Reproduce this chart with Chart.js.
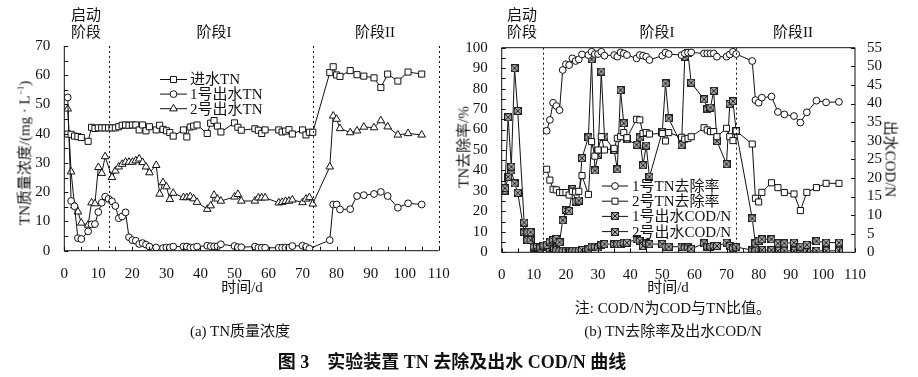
<!DOCTYPE html>
<html><head><meta charset="utf-8">
<script src="https://cdn.jsdelivr.net/npm/chart.js@4.4.0/dist/chart.umd.min.js"></script>
<style>
body{margin:0;background:#fff;width:918px;height:377px;overflow:hidden;position:relative;font-family:"Liberation Serif","Noto Sans CJK SC",serif;}
canvas{position:absolute;left:0;top:0;}
.t{position:absolute;transform:translate(-50%,-50%);white-space:nowrap;color:#111;font-size:15px;line-height:1;}
.rl{transform:translate(-50%,-50%) rotate(-90deg);}
.rr{transform:translate(-50%,-50%) rotate(90deg);}
sup{font-size:9px;vertical-align:6px;line-height:0;}
</style></head><body>
<canvas id="ca" width="918" height="377"></canvas>
<canvas id="cb" width="918" height="377"></canvas>

<div class="t" style="left:86px;top:15px">启动</div>
<div class="t" style="left:86px;top:32px">阶段</div>
<div class="t" style="left:214px;top:32px">阶段I</div>
<div class="t" style="left:375px;top:32px">阶段II</div>
<div class="t rl" style="left:25px;top:153px">TN质量浓度/(mg · L<sup>−1</sup>)</div>
<div class="t" style="left:242px;top:287px">时间/d</div>
<div class="t" style="left:240px;top:331px">(a) TN质量浓度</div>

<div class="t" style="left:522px;top:15px">启动</div>
<div class="t" style="left:522px;top:32px">阶段</div>
<div class="t" style="left:657px;top:32px">阶段I</div>
<div class="t" style="left:793px;top:32px">阶段II</div>
<div class="t rl" style="left:464px;top:147px">TN去除率/%</div>
<div class="t rr" style="left:890px;top:159px">出水COD/N</div>
<div class="t" style="left:668px;top:287px">时间/d</div>
<div class="t" style="left:673px;top:308px">注: COD/N为COD与TN比值。</div>
<div class="t" style="left:673px;top:331px">(b) TN去除率及出水COD/N</div>
<div class="t" style="left:452px;top:362px;font-weight:bold;font-size:18px">图 3　实验装置 TN 去除及出水 COD/N 曲线</div>

<script>
// ---------- data: panel (a) ----------
const inDays = [1,2,3,4,5,7,8,9,10,11,12,13,14,15,16,17,18,19,20,21,22,23,24,25,27,28,29,30,31,32,35,36,37,38,39,42,43,44,45,46,50,51,52,56,57,58,59,63,64,65,66,67,70,71,72,73,78,79,80,81,84,86,88,91,93,95,98,101,105];
const inTN = [39.9,39.8,39.2,39.0,38.7,37.4,42.2,41.8,42.0,42.0,42.0,42.0,42.0,42.0,42.4,42.9,43.0,42.9,43.0,43.0,41.3,43.0,41.0,42.4,41.3,42.9,41.5,41.0,40.4,39.2,41.3,38.9,42.3,42.6,43.0,40.1,43.6,44.5,42.6,40.6,43.7,42.2,41.2,41.7,41.2,40.1,41.3,41.3,40.6,40.9,41.4,39.9,41.3,39.6,40.5,40.5,60.9,62.9,60.1,59.6,61.6,60.2,59.7,59.1,55.8,60.4,58.0,61.1,60.4];
const e1Days = [1,2,3,4,5,7,8,9,10,11,12,13,14,15,16,17,18,19,20,21,22,23,24,25,27,29,30,31,32,35,36,37,38,39,42,43,44,45,46,50,51,52,56,57,58,59,63,64,65,66,67,70,71,72,78,79,80,81,84,86,88,91,93,95,98,101,105];
const e1TN = [52.4,17.0,15.2,4.3,4.0,6.6,9.0,9.1,13.2,16.4,18.5,17.7,16.9,15.3,11.1,11.7,13.1,4.6,3.6,3.4,2.3,2.6,2.1,1.4,1.1,0.9,1.1,1.1,1.4,1.4,1.4,1.1,1.1,1.4,1.7,1.5,1.5,1.5,2.2,1.6,1.2,1.2,1.4,1.0,1.0,1.0,1.0,1.0,1.0,1.0,1.6,1.7,1.3,0.7,3.6,15.8,15.8,14.1,14.2,18.7,19.0,19.4,20.1,18.7,14.7,16.2,15.8];
const e2Days = [1,2,3,4,5,7,8,9,10,11,12,14,15,16,17,18,19,20,21,22,23,24,25,27,28,29,30,31,32,35,36,37,38,39,42,43,44,45,46,50,51,52,56,57,58,59,63,64,65,66,67,70,71,72,73,78,79,80,81,84,86,88,91,93,95,98,101,105];
const e2TN = [48.5,27.0,15.4,13.3,9.5,8.8,16.4,16.1,28.5,26.5,32.2,25.1,27.3,28.7,29.6,30.3,30.3,30.3,30.8,31.4,30.2,28.7,26.7,29.2,19.4,23.3,21.9,17.6,19.7,18.2,18.2,18.5,17.8,16.6,14.2,15.4,19.0,17.7,17.0,18.4,19.3,17.0,17.0,18.1,18.1,18.1,16.4,16.6,16.9,17.0,17.4,16.5,17.7,18.2,16.0,28.7,46.1,45.0,41.8,40.4,41.0,42.3,42.1,44.5,42.4,39.6,40.1,39.6];

// ---------- data: panel (b) ----------
const rDays = [14,15,16,17,18,19,20,21,22,23,24,25,27,28,29,30,31,32,35,36,37,38,39,42,43,44,45,46,50,51,52,56,57,58,59,63,64,65,66,67,70,71,72,73,78,79,80,81,84,86,88,91,93,95,98,101,105];
const r1 = [59.4,64.7,73.1,71.5,69.5,89.1,91.9,91.5,94.8,93.5,94.3,96.7,96.4,98.0,96.9,96.9,98.0,96.1,96.4,95.6,97.7,97.2,96.4,94.8,96.4,96.1,95.6,94.0,96.1,97.6,96.9,96.4,97.2,97.6,97.7,97.2,97.2,97.2,97.2,95.6,95.6,96.7,98.0,96.9,93.5,74.4,73.1,75.6,76.1,68.6,67.4,66.6,63.4,68.4,74.1,73.3,73.5];
const r2 = [40.6,35.3,30.8,30.5,29.2,29.2,29.2,28.0,29.8,29.5,29.8,37.5,28.3,54.1,47.0,50.0,56.5,50.0,50.8,55.7,56.5,58.5,56.0,65.0,64.7,58.1,58.5,57.8,58.1,54.4,58.5,56.2,55.3,55.7,56.5,60.9,59.8,59.0,59.0,56.5,60.6,56.5,54.6,59.3,52.9,26.4,24.6,29.3,34.0,31.6,29.2,28.5,20.4,29.3,31.6,33.7,33.7];
const cDays = [1,2,3,4,5,7,8,9,10,11,12,13,14,15,16,17,18,19,20,21,22,23,24,25,27,28,29,30,31,32,35,36,37,38,39,42,43,44,45,46,50,51,52,56,57,58,59,63,64,65,66,67,70,71,72,73,78,79,80,81,84,86,88,91,93,95,98,101,105];
const c1 = [17.2,36.3,23.0,49.5,38.0,8.0,5.4,5.4,1.5,1.5,1.3,1.8,2.0,2.9,3.3,3.6,2.7,8.6,11.4,11.1,17.0,13.6,13.9,25.3,30.9,51.9,22.0,26.2,48.6,31.1,27.5,22.3,43.6,34.7,30.4,28.9,30.9,23.4,28.7,20.3,32.4,45.4,36.0,28.8,52.6,53.5,45.6,41.1,38.5,38.9,43.4,29.9,23.7,39.9,40.6,32.6,9.1,2.4,3.1,3.5,3.5,2.4,2.4,2.6,1.5,2.0,3.0,2.6,2.6];
const c2 = [16.6,20.3,22.0,18.5,16.0,5.4,3.3,3.3,1.2,1.2,1.0,1.5,1.5,0.8,1.1,0.6,0.4,0.4,0.4,0.4,0.4,0.4,0.4,0.6,0.8,1.5,1.5,1.3,2.0,2.2,2.2,2.2,2.2,2.6,2.6,3.5,3.1,1.7,2.4,2.2,2.2,1.5,1.5,1.5,1.3,1.3,0.9,2.4,1.5,1.5,1.7,1.7,2.6,1.7,1.1,1.4,0.6,0.4,0.7,0.6,0.6,0.4,0.4,0.4,0.4,0.4,0.4,0.4,0.4];

// ---------- ticks / phases ----------
const xTicks = [0,10,20,30,40,50,60,70,80,90,100,110];
const yTicksA = [0,10,20,30,40,50,60,70];
const yTicksB = [0,10,20,30,40,50,60,70,80,90,100];
const y2TicksB = [0,5,10,15,20,25,30,35,40,45,50,55];
const phaseA = [13,73,110];
const phaseB = [13,73];

const INK = '#111';
const FONT = {family:'"Liberation Serif","Noto Sans CJK SC",serif', size:15};

function pts(xs, ys){ return xs.map((x,i)=>({x:x, y:ys[i]})); }
function crossMark(){
  const c=document.createElement('canvas'); c.width=8; c.height=8;
  const g=c.getContext('2d');
  g.fillStyle='#a8a8a8'; g.fillRect(0,0,8,8);
  g.strokeStyle='#222'; g.lineWidth=1; g.strokeRect(0.5,0.5,7,7);
  g.beginPath(); g.moveTo(1,1); g.lineTo(7,7); g.moveTo(7,1); g.lineTo(1,7); g.stroke();
  return c;
}
const XM = crossMark();

function ds(label, data, style, r, axis){
  const o = {label, data, borderColor:INK, borderWidth:1, tension:0, fill:false,
    pointStyle:style, pointRadius:r, pointHoverRadius:r, pointBorderColor:INK,
    pointBackgroundColor:'#fff', pointBorderWidth:1};
  if(axis) o.yAxisID = axis;
  return o;
}

function marker(ctx, style, r, x, y){
  ctx.save();
  ctx.strokeStyle=INK; ctx.fillStyle='#fff'; ctx.lineWidth=1;
  if(style instanceof HTMLCanvasElement){ ctx.drawImage(style, Math.round(x-style.width/2), Math.round(y-style.height/2)); ctx.restore(); return; }
  ctx.beginPath();
  if(style==='rect'){ const s=Math.SQRT1_2*r; ctx.rect(x-s,y-s,2*s,2*s); }
  else if(style==='circle'){ ctx.arc(x,y,r,0,Math.PI*2); }
  else if(style==='triangle'){
    ctx.moveTo(x, y-r);
    ctx.lineTo(x + r*Math.cos(Math.PI/6), y + r*Math.sin(Math.PI/6));
    ctx.lineTo(x - r*Math.cos(Math.PI/6), y + r*Math.sin(Math.PI/6));
    ctx.closePath();
  }
  ctx.fill(); ctx.stroke(); ctx.restore();
}

function decorPlugin(cfg){
  return {
    id:'decor'+cfg.name,
    afterDraw(chart){
      const ctx=chart.ctx, a=chart.chartArea, xs=chart.scales.x, ys=chart.scales.y;
      ctx.save();
      ctx.strokeStyle=INK; ctx.lineWidth=1;
      ctx.beginPath();
      ctx.moveTo(a.left, a.top); ctx.lineTo(a.left, a.bottom); ctx.lineTo(a.right, a.bottom);
      if(cfg.box){ ctx.lineTo(a.right, a.top); ctx.lineTo(a.left, a.top); }
      ctx.stroke();
      ctx.beginPath();
      for(let v=xs.min; v<=xs.max+1e-9; v+=cfg.xMinor){ const p=Math.round(xs.getPixelForValue(v))+0.5; ctx.moveTo(p,a.bottom); ctx.lineTo(p,a.bottom-4); }
      for(let v=ys.min; v<=ys.max+1e-9; v+=cfg.yMinor){ const p=Math.round(ys.getPixelForValue(v))+0.5; ctx.moveTo(a.left,p); ctx.lineTo(a.left+4,p); }
      if(chart.scales.y2){ const s=chart.scales.y2; for(let v=s.min; v<=s.max+1e-9; v+=cfg.y2Minor){ const p=Math.round(s.getPixelForValue(v))+0.5; ctx.moveTo(a.right,p); ctx.lineTo(a.right-4,p); } }
      ctx.stroke();
      ctx.setLineDash([2,3]);
      ctx.beginPath();
      cfg.phases.forEach(d=>{ const p=Math.round(xs.getPixelForValue(d))+0.5; ctx.moveTo(p,a.top); ctx.lineTo(p,a.bottom); });
      ctx.stroke();
      ctx.setLineDash([]);
      ctx.font = '15px "Liberation Serif","Noto Sans CJK SC",serif';
      ctx.textBaseline='middle'; ctx.textAlign='left';
      chart.data.datasets.forEach((d,i)=>{
        const y = cfg.leg.y0 + i*cfg.leg.dy;
        ctx.strokeStyle=INK;
        ctx.beginPath(); ctx.moveTo(cfg.leg.x0,y); ctx.lineTo(cfg.leg.x1,y); ctx.stroke();
        marker(ctx, d.pointStyle, d.pointRadius, (cfg.leg.x0+cfg.leg.x1)/2, y);
        ctx.fillStyle=INK;
        ctx.fillText(d.label, cfg.leg.tx, y+1);
      });
      ctx.restore();
    }
  };
}

function fixedTicks(vals){ return s=>{ s.ticks = vals.map(v=>({value:v})); }; }
const TICKS = {font:FONT, color:INK, maxRotation:0, minRotation:0, autoSkip:false};

// ---------- chart (a) ----------
new Chart(document.getElementById('ca'), {
  type:'line',
  data:{datasets:[
    ds('进水TN', pts(inDays,inTN), 'rect', 4.3),
    ds('1号出水TN', pts(e1Days,e1TN), 'circle', 3.4),
    ds('2号出水TN', pts(e2Days,e2TN), 'triangle', 4.4)
  ]},
  options:{
    responsive:false, animation:false, devicePixelRatio:1,
    layout:{padding:{left:0, top:46, right:479.3, bottom:0}},
    plugins:{legend:{display:false}, tooltip:{enabled:false}},
    scales:{
      x:{type:'linear', min:0, max:110, afterBuildTicks:fixedTicks(xTicks), afterFit:s=>{s.height=126.3;},
         grid:{display:false}, border:{display:false}, ticks:Object.assign({padding:6}, TICKS)},
      y:{type:'linear', min:0, max:70, afterBuildTicks:fixedTicks(yTicksA), afterFit:s=>{s.width=64.3;},
         grid:{display:false}, border:{display:false}, ticks:Object.assign({padding:6}, TICKS)}
    }
  },
  plugins:[decorPlugin({name:'a', box:false, xMinor:5, yMinor:5, phases:phaseA,
    leg:{x0:160, x1:187, tx:190, y0:79.5, dy:14.6}})]
});

// ---------- chart (b) ----------
new Chart(document.getElementById('cb'), {
  type:'line',
  data:{datasets:[
    ds('1号TN去除率', pts(rDays,r1), 'circle', 3.4, 'y'),
    ds('2号TN去除率', pts(rDays,r2), 'rect', 4.3, 'y'),
    ds('1号出水COD/N', pts(cDays,c1), XM, 4, 'y2'),
    ds('2号出水COD/N', pts(cDays,c2), XM, 4, 'y2')
  ]},
  options:{
    responsive:false, animation:false, devicePixelRatio:1,
    layout:{padding:{left:455, top:47.7, right:0, bottom:0}},
    plugins:{legend:{display:false}, tooltip:{enabled:false}},
    scales:{
      x:{type:'linear', min:0, max:110, afterBuildTicks:fixedTicks(xTicks), afterFit:s=>{s.height=124.7;},
         grid:{display:false}, border:{display:false}, ticks:Object.assign({padding:6}, TICKS)},
      y:{type:'linear', position:'left', min:0, max:100, afterBuildTicks:fixedTicks(yTicksB), afterFit:s=>{s.width=46.7;},
         grid:{display:false}, border:{display:false}, ticks:Object.assign({padding:6}, TICKS)},
      y2:{type:'linear', position:'right', min:0, max:55, afterBuildTicks:fixedTicks(y2TicksB), afterFit:s=>{s.width=63;},
         grid:{display:false}, border:{display:false}, ticks:Object.assign({padding:4}, TICKS)}
    }
  },
  plugins:[decorPlugin({name:'b', box:true, xMinor:5, yMinor:5, y2Minor:5, phases:phaseB,
    leg:{x0:602, x1:628, tx:632, y0:186, dy:15.2}})]
});
</script>
</body></html>
